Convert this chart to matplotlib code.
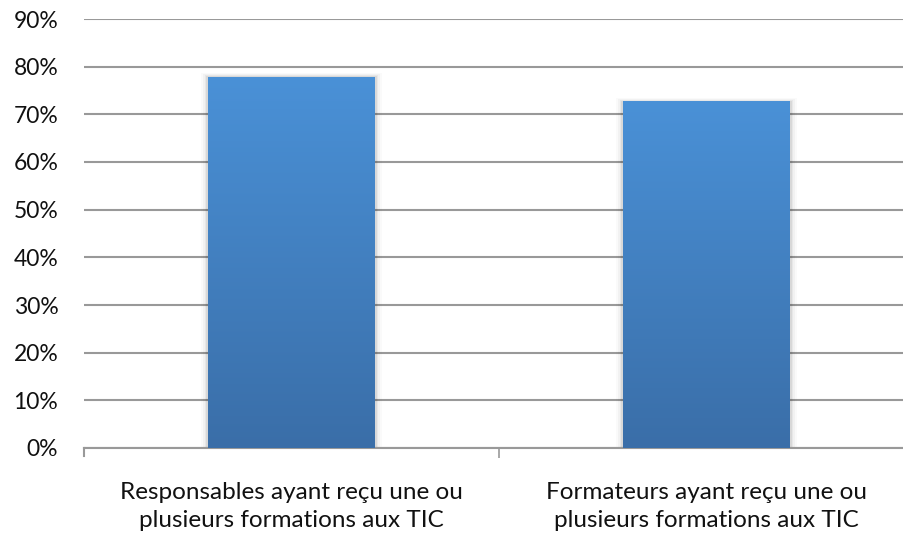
import matplotlib.pyplot as plt
import numpy as np
from matplotlib.colors import LinearSegmentedColormap

categories = ["Responsables ayant reçu une ou\nplusieurs formations aux TIC",
              "Formateurs ayant reçu une ou\nplusieurs formations aux TIC"]
values = [77.8, 72.7]
yticks = [0, 10, 20, 30, 40, 50, 60, 70, 80, 90]

plt.rcParams['font.family'] = ['Lato', 'DejaVu Sans']

fig = plt.figure(figsize=(9.04, 5.36), dpi=100)
ax = fig.add_axes([84 / 904, 1 - 448 / 536, 830 / 904, 429 / 536])

cmap = LinearSegmentedColormap.from_list('blu', ['#3a6ea8', '#4a91d7'])
grad = np.linspace(0, 1, 256).reshape(-1, 1)

width = 0.402
bars = ax.bar(range(len(values)), values, width=width, color='none', zorder=3)
for b in bars:
    x0 = b.get_x()
    h = b.get_height()
    # soft shadow
    for i, a in enumerate([0.06, 0.045, 0.03, 0.02]):
        d = 0.004 * (i + 1)
        ax.add_patch(plt.Rectangle((x0 - d, 0), width + 2 * d, h + 0.2 * (i + 1),
                                   color='black', alpha=a, lw=0, zorder=2.5))
    im = ax.imshow(grad, cmap=cmap, origin='lower', aspect='auto',
                   extent=[x0, x0 + width, 0, h], zorder=3)
    im.set_clip_path(b)

ax.set_xlim(-0.5, 1.5)
ax.set_ylim(0, 90)
ax.set_yticks(yticks)
ax.set_yticklabels([f"{t}%" for t in yticks], fontsize=16.5, color='#111111')
ax.yaxis.grid(True, color='#999999', lw=1.5)
ax.set_axisbelow(True)
ax.tick_params(axis='y', length=0, pad=18.5)

ax.set_xticks([0.5], minor=False)
ax.set_xticklabels([''])
ax.tick_params(axis='x', length=7, color='#999999', width=1.2, direction='out')
for i, c in enumerate(categories):
    ax.text(i, -7.2, c, ha='center', va='top', fontsize=17.5, color='#111111',
            linespacing=1.4)

for s in ['top', 'right']:
    ax.spines[s].set_visible(False)
ax.spines['left'].set_visible(False)
ax.spines['bottom'].set_color('#999999')
ax.spines['bottom'].set_linewidth(1.5)
ax.plot([-0.5, -0.5], [0, -1.6], color='#999999', lw=1.5, clip_on=False)

fig.savefig('out.png', dpi=100)
